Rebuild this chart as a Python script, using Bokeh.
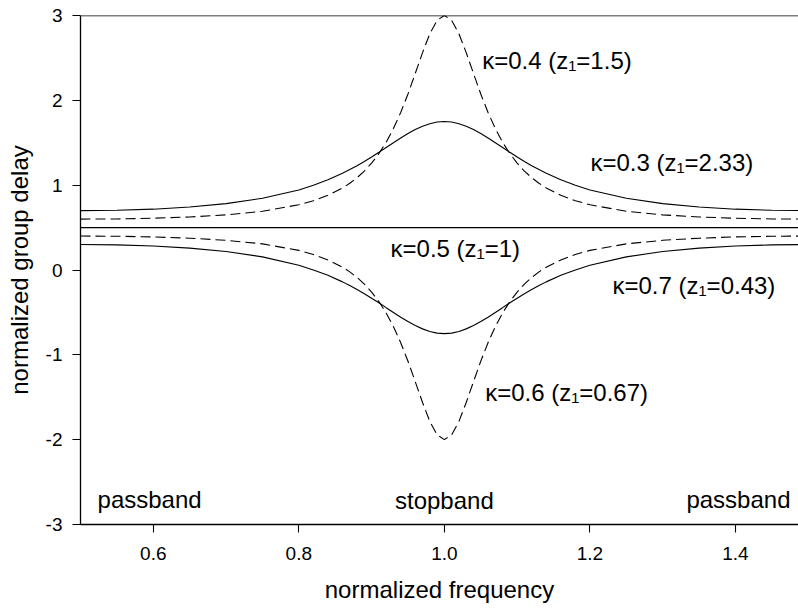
from bokeh.plotting import figure
from bokeh.models import Span, FixedTicker, NumeralTickFormatter, ColumnDataSource
from bokeh.core.properties import value
from bokeh.embed import file_html
from bokeh.resources import INLINE

# normalized frequency samples
freq = [0.5, 0.55, 0.6, 0.65, 0.7, 0.75, 0.8, 0.82, 0.84, 0.86, 0.87, 0.88, 0.89, 0.9,
        0.91, 0.92, 0.93, 0.94, 0.95, 0.96, 0.97, 0.98, 0.99, 1.0, 1.01, 1.02, 1.03,
        1.04, 1.05, 1.06, 1.07, 1.08, 1.09, 1.1, 1.11, 1.12, 1.13, 1.14, 1.16, 1.18,
        1.2, 1.25, 1.3, 1.35, 1.4, 1.45, 1.5]

# kappa = 0.4 (z1 = 1.5), dashed
delay_k04 = [0.600, 0.602, 0.610, 0.625, 0.650, 0.692, 0.769, 0.817, 0.881, 0.967, 1.022,
             1.088, 1.166, 1.260, 1.372, 1.506, 1.667, 1.857, 2.075, 2.317, 2.562, 2.785,
             2.943, 3.000, 2.943, 2.785, 2.562, 2.317, 2.075, 1.857, 1.667, 1.506, 1.372,
             1.260, 1.166, 1.088, 1.022, 0.967, 0.881, 0.817, 0.769, 0.692, 0.650, 0.625,
             0.610, 0.602, 0.600]

# kappa = 0.3 (z1 = 2.33), solid
delay_k03 = [0.700, 0.704, 0.717, 0.742, 0.782, 0.845, 0.944, 0.999, 1.063, 1.140, 1.184,
             1.230, 1.280, 1.332, 1.387, 1.444, 1.500, 1.556, 1.608, 1.655, 1.694, 1.724,
             1.744, 1.750, 1.744, 1.724, 1.694, 1.655, 1.608, 1.556, 1.500, 1.444, 1.387,
             1.332, 1.280, 1.230, 1.184, 1.140, 1.063, 0.999, 0.944, 0.845, 0.782, 0.742,
             0.717, 0.704, 0.700]

# kappa = 0.6 (z1 = 0.67), dashed
delay_k06 = [0.400, 0.398, 0.390, 0.375, 0.350, 0.308, 0.231, 0.183, 0.119, 0.033, -0.022,
             -0.088, -0.166, -0.260, -0.372, -0.506, -0.667, -0.857, -1.075, -1.317, -1.562,
             -1.785, -1.943, -2.000, -1.943, -1.785, -1.562, -1.317, -1.075, -0.857, -0.667,
             -0.506, -0.372, -0.260, -0.166, -0.088, -0.022, 0.033, 0.119, 0.183, 0.231,
             0.308, 0.350, 0.375, 0.390, 0.398, 0.400]

# kappa = 0.7 (z1 = 0.43), solid
delay_k07 = [0.300, 0.296, 0.283, 0.258, 0.218, 0.155, 0.056, 0.001, -0.063, -0.140, -0.184,
             -0.230, -0.280, -0.332, -0.387, -0.444, -0.500, -0.556, -0.608, -0.655, -0.694,
             -0.724, -0.744, -0.750, -0.744, -0.724, -0.694, -0.655, -0.608, -0.556, -0.500,
             -0.444, -0.387, -0.332, -0.280, -0.230, -0.184, -0.140, -0.063, 0.001, 0.056,
             0.155, 0.218, 0.258, 0.283, 0.296, 0.300]

# kappa = 0.5 (z1 = 1), flat
freq_k05 = [0.5, 1.5]
delay_k05 = [0.5, 0.5]

x_ticks = [0.6, 0.8, 1.0, 1.2, 1.4]
y_ticks = [-3, -2, -1, 0, 1, 2, 3]

ann_text = ["κ=0.4 (z₁=1.5)", "κ=0.3 (z₁=2.33)", "κ=0.5 (z₁=1)",
            "κ=0.7 (z₁=0.43)", "κ=0.6 (z₁=0.67)"]
ann_x = [1.052, 1.2007, 0.926, 1.231, 1.056]
ann_y = [2.47, 1.262, 0.256, -0.18, -1.44]

band_text = ["passband", "stopband", "passband"]
band_x = [0.5234, 1.0, 1.4756]
band_y = [-2.70, -2.72, -2.70]
band_align = ["left", "center", "right"]

FONT = "Liberation Sans"

p = figure(width=798, height=608, x_range=(0.5, 1.4866), y_range=(-3, 3),
           output_backend="svg", toolbar_location=None,
           min_border_left=80, min_border_right=0, min_border_top=15, min_border_bottom=84)

p.outline_line_color = None
p.grid.visible = False
p.background_fill_color = "white"
p.border_fill_color = "white"

p.line(freq, delay_k04, line_color="black", line_width=1.1, line_dash="10 5")
p.line(freq, delay_k03, line_color="black", line_width=1.1)
p.line(freq, delay_k06, line_color="black", line_width=1.1, line_dash="10 5")
p.line(freq, delay_k07, line_color="black", line_width=1.1)
p.line(freq_k05, delay_k05, line_color="black", line_width=1.3)

p.add_layout(Span(location=3, dimension="width", line_color="black", line_width=1.3))

ann_src = ColumnDataSource(dict(x=ann_x, y=ann_y, text=ann_text))
p.text(x="x", y="y", text="text", source=ann_src, text_font=value(FONT),
       text_font_size="24px", text_align="left", text_baseline="middle", text_color="black")

band_src = ColumnDataSource(dict(x=band_x, y=band_y, text=band_text, align=band_align))
p.text(x="x", y="y", text="text", source=band_src, text_font=value(FONT),
       text_font_size="24px", text_align="align", text_baseline="alphabetic", text_color="black")

p.xaxis.ticker = FixedTicker(ticks=x_ticks)
p.yaxis.ticker = FixedTicker(ticks=y_ticks)
p.xaxis.formatter = NumeralTickFormatter(format="0.0")
p.yaxis.formatter = NumeralTickFormatter(format="0")
p.xaxis.axis_label = "normalized frequency"
p.yaxis.axis_label = "normalized group delay"

for ax in (p.xaxis, p.yaxis):
    ax.axis_line_color = "black"
    ax.axis_line_width = 1.3
    ax.major_tick_line_color = "black"
    ax.major_tick_line_width = 1.1
    ax.major_tick_out = 8
    ax.major_tick_in = 0
    ax.minor_tick_line_color = None
    ax.major_label_text_font = FONT
    ax.major_label_text_font_size = "19px"
    ax.major_label_text_color = "black"
    ax.axis_label_text_font = FONT
    ax.axis_label_text_font_size = "24px"
    ax.axis_label_text_font_style = "normal"
    ax.axis_label_text_color = "black"

p.xaxis.major_label_standoff = 14
p.xaxis.axis_label_standoff = 13
p.yaxis.major_label_standoff = 10
p.yaxis.axis_label_standoff = 10

open("out.html", "w").write(file_html(p, INLINE))
